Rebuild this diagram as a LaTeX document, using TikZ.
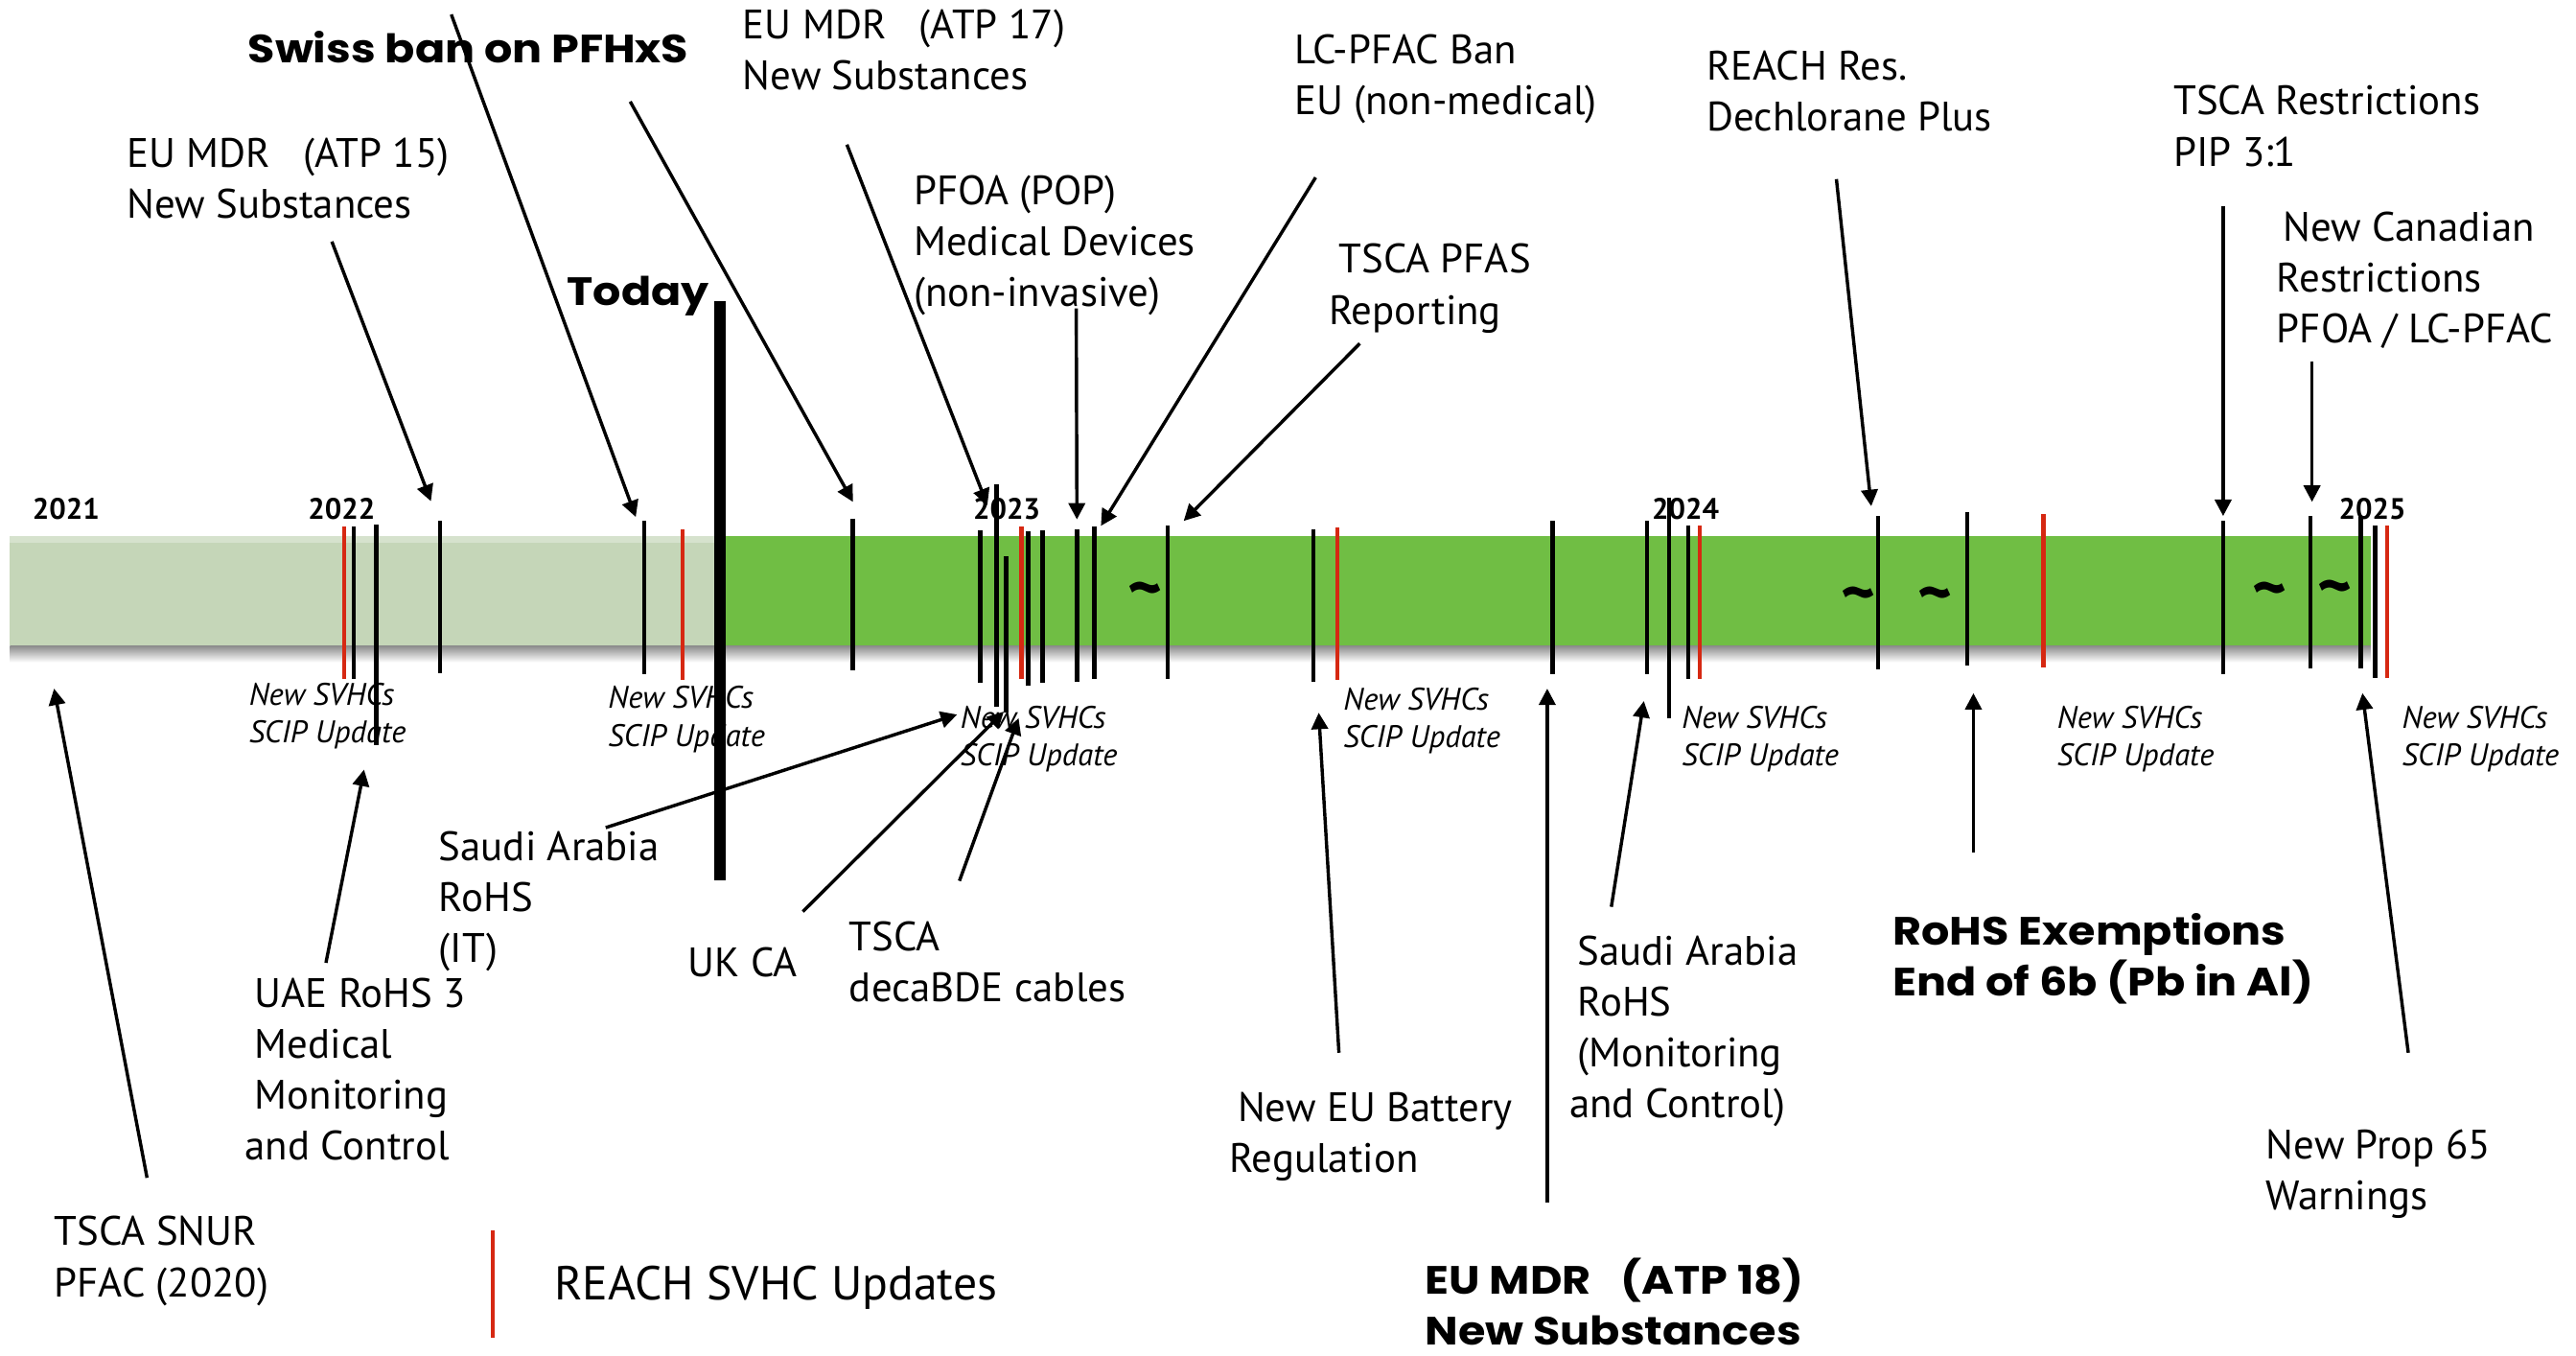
\documentclass[tikz,border=0pt]{standalone}
\usepackage{fontspec}
\setmainfont{PT Sans}
\newfontfamily\heavyfont{Poppins}[FakeStretch=1.12]
\usetikzlibrary{arrows.meta}
\definecolor{barlight}{RGB}{197,214,184}
\definecolor{bardark}{RGB}{112,190,68}
\definecolor{svhcred}{RGB}{214,40,18}
\tikzset{
  blackmark/.style={line width=2.6pt},
  redmark/.style={line width=2.6pt, draw=svhcred},
  ptr/.style={line width=2pt, -{Triangle[length=10pt,width=10pt]}},
  lbl/.style={anchor=base west, inner sep=0pt, align=left, font=\fontsize{25}{31}\selectfont},
  blbl/.style={anchor=base west, inner sep=0pt, align=left, font=\heavyfont\fontsize{24}{31}\selectfont\bfseries},
  yr/.style={anchor=base, inner sep=0pt, font=\fontsize{18}{20}\selectfont\bfseries},
  svhc/.style={anchor=base west, inner sep=0pt, align=left, font=\fontsize{19}{23}\selectfont\itshape},
  tld/.style={anchor=center, inner sep=0pt, font=\fontsize{40}{40}\selectfont\bfseries}
}
\begin{document}
\begin{tikzpicture}[x=1pt,y=-1pt]
\useasboundingbox (0,0) rectangle (1568,825);
% bar with shadow
\shade[top color=black!45, bottom color=white] (6,393) rectangle (1443,403);
\fill[barlight] (6,326) rectangle (438,393);
\fill[barlight!70!white] (6,326) rectangle (438,330);
\fill[bardark] (438,326) rectangle (1443,393);
% red SVHC marks
\foreach \x/\a/\b in {209.5/320.4/413.4, 415.4/322/414, 621.7/320.4/413.4, 813.9/321/414, 1034.7/320/413, 1243.7/313/406, 1453/320/412.5}
  \draw[redmark] (\x,\a) -- (\x,\b);
% black marks
\foreach \x/\a/\b in {215.4/320.4/413.4, 229/319.4/453.5, 268/317/409.6, 392/317/410, 519/315.6/408,
  596.8/322.9/415.3, 606.5/294.7/429.9, 612.3/338.5/433.8, 625.8/323.3/417.3, 634.7/322.5/415.7,
  655.5/322/414.9, 666/320.2/413.4, 710.6/320/413, 799.4/322/414.7, 945/317/410, 1002.6/317/410,
  1016/303/437, 1027.5/320/413, 1143.3/314/407.5, 1197.4/311.6/405, 1353.2/317/410, 1406.2/314/407,
  1437/314.6/407, 1445.6/320/412.5}
  \draw[blackmark] (\x,\a) -- (\x,\b);
% today line
\coordinate (todaytop) at (438.5,183);
\coordinate (todaybot) at (438.5,535.5);
\draw[line width=7pt] (todaytop) -- (todaybot);
% tildes
\node[tld] (tl1) at (697,363) {\textasciitilde};
\node[tld] (tl2) at (1131,366) {\textasciitilde};
\node[tld] (tl3) at (1178,366) {\textasciitilde};
\node[tld] (tl4) at (1381.4,363) {\textasciitilde};
\node[tld] (tl5) at (1421.3,362) {\textasciitilde};
% years
\node[yr] (y21) at (40.2,315.7) {2021};
\node[yr] (y22) at (208,315.7) {2022};
\node[yr] (y23) at (612.8,315.7) {2023};
\node[yr] (y24) at (1026,315.7) {2024};
\node[yr] (y25) at (1444,315.7) {2025};
% SVHC small labels (anchored at last baseline)
\node[svhc] (sv1) at (151.4,452) {New SVHCs\\SCIP Update};
\node[svhc] (sv2) at (370,454) {New SVHCs\\SCIP Update};
\node[svhc] (sv3) at (584.5,466) {New SVHCs\\SCIP Update};
\node[svhc] (sv4) at (817.6,455) {New SVHCs\\SCIP Update};
\node[svhc] (sv5) at (1023.6,466) {New SVHCs\\SCIP Update};
\node[svhc] (sv6) at (1252,466) {New SVHCs\\SCIP Update};
\node[svhc] (sv7) at (1462,466) {New SVHCs\\SCIP Update};
% upper labels (anchored at last baseline)
\node[blbl] (swiss) at (150.8,38) {Swiss ban on PFHxS};
\node[lbl] (atp15) at (77,133) {EU MDR\ \ \ (ATP 15)\\New Substances};
\node[lbl] (atp17) at (452,54.4) {EU MDR\ \ \ (ATP 17)\\New Substances};
\node[blbl, font=\heavyfont\fontsize{24}{31}\selectfont\bfseries] (today) at (345,185.8) {Today};
\node[lbl] (pfoa) at (556,186.5) {PFOA (POP)\\Medical Devices\\(non-invasive)};
\node[lbl] (lcpfac) at (787.7,69.9) {LC-PFAC Ban\\EU (non-medical)};
\node[lbl] (tscapfas) at (808.8,197.3) {\hspace*{6pt}TSCA PFAS\\Reporting};
\node[lbl] (reachres) at (1038.7,79.6) {REACH Res.\\Dechlorane Plus};
\node[lbl] (tscarestr) at (1322.9,101) {TSCA Restrictions\\PIP 3:1};
\node[lbl] (canadian) at (1385.7,208.9) {\hspace*{4pt}New Canadian\\Restrictions\\PFOA / LC-PFAC};
% lower labels
\node[lbl] (saudiit) at (267,585.5) {Saudi Arabia\\RoHS\\(IT)};
\node[lbl] (ukca) at (418.6,594.5) {UK CA};
\node[lbl] (decabde) at (516.8,609.5) {TSCA\\decaBDE cables};
\node[lbl] (uae) at (149,706) {\hspace*{6pt}UAE RoHS 3\\\hspace*{6pt}Medical\\\hspace*{6pt}Monitoring\\and Control};
\node[lbl] (snur) at (33,789) {TSCA SNUR\\PFAC (2020)};
\node[lbl] (battery) at (748.2,713.5) {\hspace*{5pt}New EU Battery\\Regulation};
\node[blbl] (atp18) at (867.4,818.3) {EU MDR\hspace{18pt}(ATP 18)\\New Substances};
\node[lbl] (saudimc) at (955.1,680.4) {\hspace*{5pt}Saudi Arabia\\\hspace*{5pt}RoHS\\\hspace*{5pt}(Monitoring\\and Control)};
\node[blbl] (rohsex) at (1152,606) {RoHS Exemptions\\End of 6b (Pb in Al)};
\node[lbl] (prop65) at (1379.2,736) {New Prop 65\\Warnings};
% legend
\coordinate (legtop) at (300,748.6);
\coordinate (legbot) at (300,813.8);
\draw[redmark] (legtop) -- (legbot);
\node[lbl, font=\fontsize{29}{31}\selectfont] (legend) at (337.3,791) {REACH SVHC Updates};
% arrow end points
\coordinate (s1) at (202,147);      \coordinate (t1) at (262.3,305);
\coordinate (s2) at (274.7,8.8);    \coordinate (t2) at (387,314.6);
\coordinate (s3) at (383.6,61.8);   \coordinate (t3) at (519.2,305.4);
\coordinate (s4) at (515.5,88);     \coordinate (t4) at (601,307.4);
\coordinate (s5) at (655.1,187.7);  \coordinate (t5) at (655.5,316.1);
\coordinate (s6) at (800.8,108);    \coordinate (t6) at (670.1,320);
\coordinate (s7) at (827.7,209);    \coordinate (t7) at (720.5,317);
\coordinate (s8) at (1117.8,109);   \coordinate (t8) at (1139,308);
\coordinate (s9) at (1353.2,125.5); \coordinate (t9) at (1353.2,314);
\coordinate (s10) at (1407.3,219.8); \coordinate (t10) at (1407.3,305.4);
\coordinate (s11) at (89.5,716.7);  \coordinate (t11) at (32.9,419);
\coordinate (s12) at (198.4,585.9); \coordinate (t12) at (221.6,468.3);
\coordinate (s13) at (368.7,503.6); \coordinate (t13) at (582.6,434.8);
\coordinate (s14) at (488.7,554.7); \coordinate (t14) at (611,433);
\coordinate (s15) at (584,536);     \coordinate (t15) at (620,437);
\coordinate (s16) at (815,640.6);   \coordinate (t16) at (802.7,433.7);
\coordinate (s17) at (941.8,732);   \coordinate (t17) at (941.8,419);
\coordinate (s18) at (980.8,551.8); \coordinate (t18) at (1000.6,426.6);
\coordinate (s19) at (1201.2,518.5); \coordinate (t19) at (1201.2,421.8);
\coordinate (s20) at (1465.9,640.6); \coordinate (t20) at (1438,421.8);
\foreach \i in {1,...,20}
  \draw[ptr] (s\i) -- (t\i);
\end{tikzpicture}
\end{document}
